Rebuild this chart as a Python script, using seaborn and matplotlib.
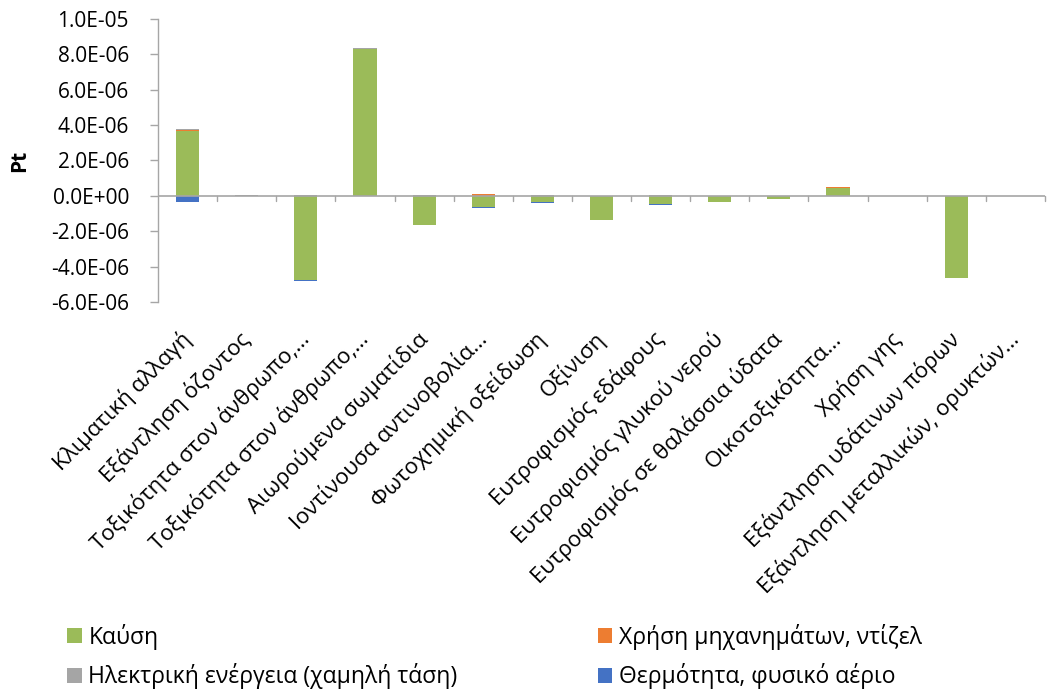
import numpy as np
import pandas as pd
import matplotlib
matplotlib.use("Agg")
import matplotlib.pyplot as plt
import matplotlib.transforms as mtransforms
from matplotlib.patches import Patch
from matplotlib.ticker import FuncFormatter
import seaborn as sns

categories = [
    "Κλιματική αλλαγή",
    "Εξάντληση όζοντος",
    "Τοξικότητα στον άνθρωπο,…",
    "Τοξικότητα στον άνθρωπο,…",
    "Αιωρούμενα σωματίδια",
    "Ιοντίνουσα αντινοβολία…",
    "Φωτοχημική οξείδωση",
    "Οξίνιση",
    "Ευτροφισμός εδάφους",
    "Ευτροφισμός γλυκού νερού",
    "Ευτροφισμός σε θαλάσσια ύδατα",
    "Οικοτοξικότητα…",
    "Χρήση γης",
    "Εξάντληση υδάτινων πόρων",
    "Εξάντληση μεταλλικών, ορυκτών…",
]

series_names = [
    "Καύση",
    "Χρήση μηχανημάτων, ντίζελ",
    "Ηλεκτρική ενέργεια (χαμηλή τάση)",
    "Θερμότητα, φυσικό αέριο",
]

kafsi = [3.67e-6, 0.0, -4.74e-6, 8.30e-6, -1.64e-6, -0.64e-6, -0.37e-6,
         -1.34e-6, -0.44e-6, -0.33e-6, -0.17e-6, 0.46e-6, 0.0, -4.62e-6, 0.0]
diesel = [0.08e-6, 0.01e-6, 0.0, 0.0, 0.0, 0.10e-6, 0.0,
          0.0, 0.0, 0.0, 0.0, 0.02e-6, 0.0, -0.02e-6, 0.0]
electricity = [0.02e-6, 0.02e-6, 0.06e-6, 0.05e-6, 0.04e-6, 0.03e-6, 0.03e-6,
               0.02e-6, 0.03e-6, 0.0, 0.02e-6, 0.0, 0.0, 0.0, 0.0]
heat_gas = [-0.36e-6, 0.0, -0.10e-6, -0.03e-6, -0.03e-6, -0.05e-6, -0.03e-6,
            -0.05e-6, -0.05e-6, -0.02e-6, -0.03e-6, 0.0, 0.0, 0.0, 0.0]

colors = ["#9BBB59", "#ED7D31", "#A5A5A5", "#4472C4"]
yticks = [-6e-6, -4e-6, -2e-6, 0.0, 2e-6, 4e-6, 6e-6, 8e-6, 1e-5]

FONT = "Open Sans"
AXIS_GREY = "#A6A6A6"
sns.set_theme(style="white")
plt.rcParams["font.family"] = [FONT, "DejaVu Sans"]
plt.rcParams["text.color"] = "black"
plt.rcParams["xtick.color"] = "black"
plt.rcParams["ytick.color"] = "black"
plt.rcParams["axes.labelcolor"] = "black"

values = np.array([kafsi, diesel, electricity, heat_gas])
pos_cum = np.cumsum(np.clip(values, 0, None), axis=0)
neg_cum = np.cumsum(np.clip(values, None, 0), axis=0)

fig = plt.figure(figsize=(10.47, 6.93), dpi=100)
ax = fig.add_axes([0.151, 0.5642, 0.847, 0.4084])

xpos = np.arange(len(categories))
# Stacked bars: positives and negatives stack separately from zero;
# outer cumulative totals are drawn first, inner series on top of them.
for i in range(len(series_names) - 1, -1, -1):
    for cum in (pos_cum[i], neg_cum[i]):
        df = pd.DataFrame({"cat": xpos, "val": cum})
        sns.barplot(data=df, x="cat", y="val", color=colors[i], ax=ax,
                    width=0.39, saturation=1, order=list(xpos),
                    edgecolor="none", linewidth=0)

ax.set_xlim(-0.5, len(categories) - 0.5)
ax.set_ylim(-6e-6, 1e-5)
ax.set_yticks(yticks)
ax.yaxis.set_major_formatter(FuncFormatter(lambda v, p: f"{v:.1E}"))
ax.tick_params(axis="y", which="major", length=6, width=1, color=AXIS_GREY,
               labelcolor="black", labelsize=15, pad=15, left=True)

ax.set_xticks(xpos)
ax.set_xticklabels(categories, rotation=45, ha="right", rotation_mode="anchor",
                   fontsize=16)
ax.tick_params(axis="x", which="major", length=0, pad=20, labelcolor="black")
shift = mtransforms.ScaledTranslation(-8 / 100, 2 / 100, fig.dpi_scale_trans)
for lbl in ax.get_xticklabels():
    lbl.set_transform(lbl.get_transform() + shift)

ax.set_xlabel("")
ax.set_ylabel("Pt", fontsize=15, fontweight="bold", labelpad=15)

for side in ("top", "right", "bottom"):
    ax.spines[side].set_visible(False)
ax.spines["left"].set_color(AXIS_GREY)
ax.spines["left"].set_linewidth(1)
ax.axhline(0, color=AXIS_GREY, lw=1.2, zorder=5)

# Category separators hang just below the zero line
for b in np.arange(0.5, len(categories), 1.0):
    ax.plot([b, b], [0, -0.3e-6], color=AXIS_GREY, lw=1, zorder=5,
            clip_on=False)

# Legend filled row by row: two entries per row
handles = [Patch(facecolor=c, edgecolor="none") for c in colors]
order = [0, 2, 1, 3]
fig.legend([handles[k] for k in order], [series_names[k] for k in order],
           ncol=2, loc="upper left", bbox_to_anchor=(0.044, 0.13),
           frameon=False, fontsize=16.5,
           handlelength=0.65, handleheight=0.65, handletextpad=0.3,
           columnspacing=6.1, labelspacing=0.6)

fig.savefig("out.png", dpi=100)
